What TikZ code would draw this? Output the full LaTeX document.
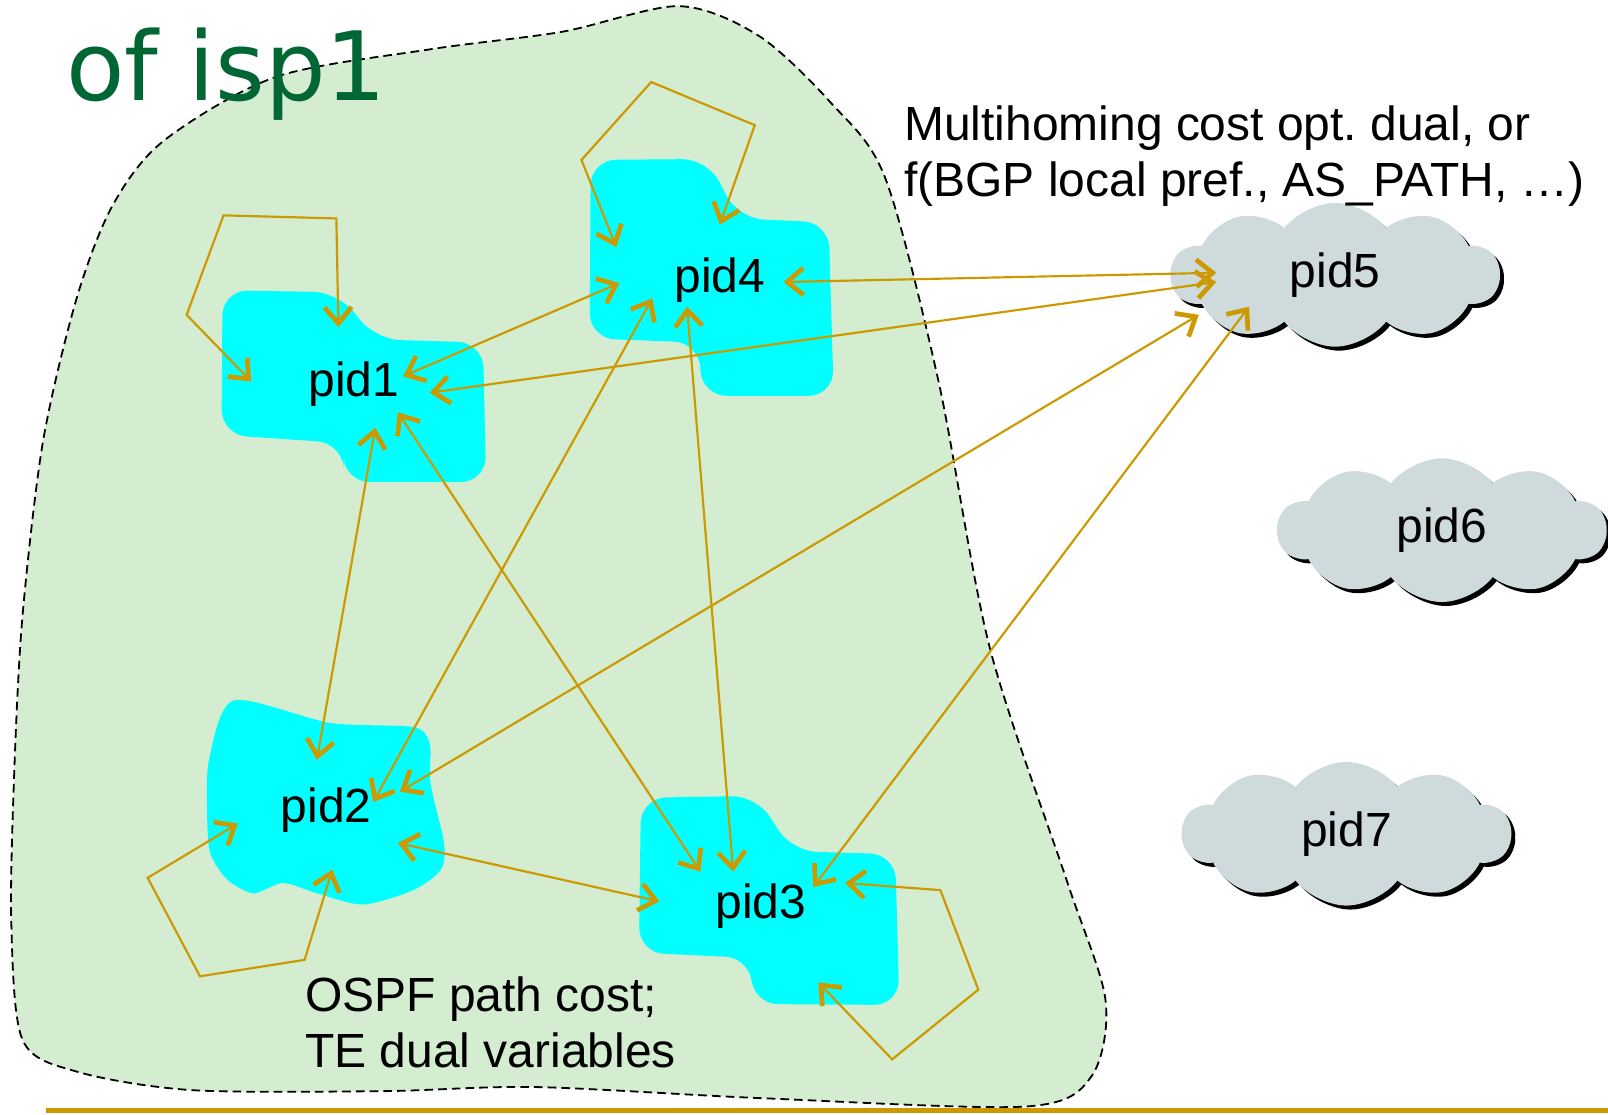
\documentclass[tikz,border=0pt]{standalone}
\usepackage{fontspec}
\setmainfont{Liberation Sans}
\newfontfamily\titlefont{DejaVu Sans}
\usetikzlibrary{shapes.symbols,shadows,arrows.meta}
\frenchspacing

\definecolor{ispgreen}{RGB}{212,236,208}
\definecolor{pidcyan}{RGB}{0,255,255}
\definecolor{costgold}{RGB}{204,153,0}
\definecolor{cloudgrey}{RGB}{207,218,220}
\definecolor{titlegreen}{RGB}{0,102,51}

\tikzset{
  txt/.style={inner sep=0pt, font=\fontsize{13.3}{15.6}\selectfont},
  blob/.style={fill=pidcyan, draw=none, rounded corners=7pt},
  extcloud/.style={cloud, cloud puffs=10, cloud puff arc=105, aspect=2.3,
    fill=cloudgrey, minimum width=3.2cm, minimum height=1.4cm, inner sep=0pt,
    font=\fontsize{13.3}{15.6}\selectfont,
    drop shadow={fill=black, opacity=1, shadow xshift=1.1pt, shadow yshift=-1.1pt}},
  cost/.style={costgold, line width=0.6pt,
    >={Straight Barb[length=4.5pt,width=7.5pt,line width=1.3pt]}, <->}
}

\begin{document}
\begin{tikzpicture}[x=0.01cm, y=-0.01cm]
  \useasboundingbox (0,0) rectangle (1568,1087);

  % isp1 area
  \draw[fill=ispgreen, line width=0.5pt, dash pattern=on 2.4pt off 1.4pt]
    plot[smooth cycle] coordinates {(160,137) (269,75) (420,48) (548,31) (662,6)
      (740,35) (810,100) (863,173) (915,371) (965,631) (1040,858) (1078,975)
      (1064,1050) (1000,1079) (746,1071) (522,1060) (373,1064) (187,1063) (75,1045)
      (22,1014) (11,900) (14,750) (22,600) (42,430) (75,290) (110,200)};

  % pids inside isp1
  \fill[blob] (217,283) -- (330,285) -- (366,331) -- (471,334) -- (474,470)
    -- (336,470) -- (334,432) -- (216,424) -- cycle;
  \fill[blob] (576,156) -- (690,155) -- (720,213) -- (808,217) -- (813,386)
    -- (684,386) -- (682,334) -- (575,330) -- cycle;
  \fill[blob] (625,778) -- (738,776) -- (772,830) -- (873,833) -- (877,980)
    -- (734,979) -- (732,934) -- (623,929) -- cycle;
  \fill[pidcyan] plot[smooth cycle, tension=0.45] coordinates {(228,683)
    (322,705) (403,709) (419,725) (420,765) (433,822) (430,848) (403,868)
    (354,882) (309,871) (276,861) (247,871) (222,858) (205,832) (202,793)
    (204,740)};

  \node[txt] (p1) at (345,375) {pid1};
  \node[txt] (p4) at (702,273) {pid4};
  \node[txt] (p2) at (318,790) {pid2};
  \node[txt] (p3) at (742,884) {pid3};

  % external pids
  \node[extcloud] (p5) at (1302,268) {pid5};
  \node[extcloud] (p6) at (1406,517) {pid6};
  \node[extcloud] (p7) at (1313,813) {pid7};

  % arrow ends
  \coordinate (t14) at (393,367); \coordinate (t41) at (604,276);
  \coordinate (t15) at (419,383); \coordinate (t51) at (1186,275);
  \coordinate (t45) at (764,275); \coordinate (t54) at (1186,266);
  \coordinate (t25) at (390,772); \coordinate (t52) at (1169,307);
  \coordinate (t35) at (793,865); \coordinate (t53) at (1218,299);
  \coordinate (t42) at (636,291); \coordinate (t24) at (364,782);
  \coordinate (t43) at (670,299); \coordinate (t34) at (715,850);
  \coordinate (t13) at (388,402); \coordinate (t31) at (683,850);
  \coordinate (t12) at (366,417); \coordinate (t21) at (309,741);
  \coordinate (t23) at (388,822); \coordinate (t32) at (643,879);
  \coordinate (l1a) at (330,319); \coordinate (l1b) at (245,372);
  \coordinate (l4a) at (601,241); \coordinate (l4b) at (702,219);
  \coordinate (l2a) at (232,803); \coordinate (l2b) at (324,848);
  \coordinate (l3a) at (824,861); \coordinate (l3b) at (798,958);

  \path[cost]
    (t14) edge (t41)
    (t15) edge (t51)
    (t45) edge (t54)
    (t25) edge (t52)
    (t35) edge (t53)
    (t42) edge (t24)
    (t43) edge (t34)
    (t13) edge (t31)
    (t12) edge (t21)
    (t23) edge (t32);

  % self loops
  \draw[cost] (l1a) -- (328,213) -- (218,210) -- (182,307) -- (l1b);
  \draw[cost] (l4a) -- (567,156) -- (635,80) -- (736,122) -- (l4b);
  \draw[cost] (l2a) -- (144,856) -- (195,952) -- (297,936) -- (l2b);
  \draw[cost] (l3a) -- (917,868) -- (954,965) -- (870,1033) -- (l3b);

  % costs
  \node[txt, anchor=base west] (mh) at (881,137) {Multihoming cost opt. dual, or};
  \node[txt, anchor=base west] (bgp) at (881,192) {f(BGP local pref., AS\_PATH, …)};
  \node[txt, anchor=base west] (ospf) at (297,986) {OSPF path cost;};
  \node[txt, anchor=base west] (te) at (297,1041) {TE dual variables};

  \node[anchor=base west, inner sep=0pt, text=titlegreen,
    font=\titlefont\fontsize{26.5}{30}\selectfont] (ttl) at (64,98) {of isp1};

  \draw[costgold, line width=1.2pt] (45,1083) -- (1568,1083);
\end{tikzpicture}
\end{document}
